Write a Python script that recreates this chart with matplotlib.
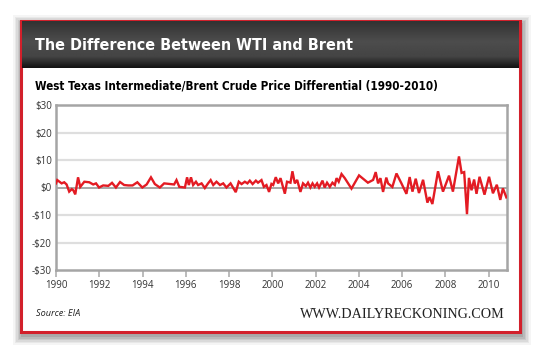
import numpy as np
import matplotlib
matplotlib.use("Agg")
import matplotlib.pyplot as plt
from matplotlib.patches import Rectangle
from matplotlib import font_manager as fm

# ---------------- data ----------------
years = [1990.00, 1990.06, 1990.26, 1990.38, 1990.49, 1990.61, 1990.73, 1990.80, 1990.89,
         1991.02, 1991.12, 1991.31, 1991.54, 1991.72, 1991.85, 1991.99,
         1992.18, 1992.42, 1992.59, 1992.77, 1992.96,
         1993.15, 1993.34, 1993.54, 1993.76, 1993.99,
         1994.19, 1994.39, 1994.57, 1994.80,
         1995.00, 1995.27, 1995.46, 1995.57, 1995.70, 1995.96,
         1996.06, 1996.14, 1996.24, 1996.34, 1996.47, 1996.57, 1996.73, 1996.88,
         1997.03, 1997.15, 1997.27, 1997.42, 1997.58, 1997.73, 1997.88,
         1998.07, 1998.31, 1998.45, 1998.58, 1998.73, 1998.85, 1998.96,
         1999.09, 1999.24, 1999.34, 1999.50, 1999.61, 1999.73, 1999.85, 1999.96,
         2000.04, 2000.16, 2000.27, 2000.38, 2000.58, 2000.68, 2000.84, 2000.93,
         2001.04, 2001.15, 2001.30, 2001.42, 2001.55, 2001.65, 2001.76, 2001.86, 2001.96,
         2002.07, 2002.16, 2002.32, 2002.42, 2002.53, 2002.66, 2002.78, 2002.89, 2002.97,
         2003.07, 2003.20, 2003.35, 2003.66,
         2004.01, 2004.42, 2004.66, 2004.78, 2004.89,
         2005.00, 2005.12, 2005.27, 2005.35, 2005.55, 2005.74, 2005.97,
         2006.20, 2006.35, 2006.48, 2006.63, 2006.78, 2006.97,
         2007.17, 2007.27, 2007.40, 2007.66, 2007.89,
         2008.17, 2008.35, 2008.63, 2008.75, 2008.87, 2009.00,
         2009.09, 2009.21, 2009.33, 2009.44, 2009.58, 2009.81,
         2010.02, 2010.20, 2010.38, 2010.54, 2010.66, 2010.82]
differential = [1.5, 2.7, 1.5, 1.9, 1.1, -1.5, -0.6, -1.0, -2.5,
                3.7, 0.2, 2.1, 1.9, 1.1, 1.5, 0.0,
                0.75, 0.6, 1.7, 0.0, 2.0,
                0.9, 0.75, 0.75, 1.9, 0.0,
                1.1, 3.7, 1.25, 0.0,
                1.5, 1.25, 1.1, 2.7, 0.25, 0.0,
                3.7, 0.9, 3.7, 0.9, 2.1, 0.9, 1.5, -0.2,
                1.5, 2.7, 0.9, 2.1, 0.9, 1.5, 0.0,
                1.5, -1.7, 2.1, 1.25, 2.1, 1.5, 2.5,
                1.25, 2.5, 1.75, 2.7, 0.25, 0.9, -1.6, 1.3,
                0.9, 3.75, 1.5, 3.4, -2.25, 2.1, 1.75, 5.9,
                1.5, 2.75, -1.6, 1.5, 0.5, 1.75, 0.0, 1.5, 0.25,
                1.5, 0.0, 2.5, 0.0, 1.75, 0.25, 1.75, 0.9, 3.4,
                2.1, 4.9, 3.4, -0.4,
                4.4, 1.75, 2.75, 5.6, 1.5,
                3.4, -1.6, 3.6, 1.5, 0.2, 5.1, 1.5,
                -2.3, 3.8, -1.5, 3.2, -2.0, 2.8,
                -5.5, -3.5, -6.0, 5.9, -1.5,
                4.3, -1.5, 11.3, 5.3, 5.6, -9.7,
                3.5, -1.0, 2.9, -2.3, 3.9, -2.6,
                3.9, -2.1, 1.0, -4.5, -0.3, -3.6]

y_ticks = [-30, -20, -10, 0, 10, 20, 30]
y_tick_labels = ["-$30", "-$20", "-$10", "$0", "$10", "$20", "$30"]
x_ticks = [1990, 1992, 1994, 1996, 1998, 2000, 2002, 2004, 2006, 2008, 2010]

header_title = "The Difference Between WTI and Brent"
chart_title = "West Texas Intermediate/Brent Crude Price Differential (1990-2010)"
source_text = "Source: EIA"
site_text = "WWW.DAILYRECKONING.COM"


def pick_condensed_bold():
    prefs = [("dejavu sans", "condensed"), ("roboto condensed", None),
             ("liberation sans narrow", None), ("open sans condensed", None)]
    for fam, stretch in prefs:
        for f in fm.fontManager.ttflist:
            if f.name.lower() == fam and f.style == "normal" and \
                    (f.weight in ("bold", 700) or "bold" in f.fname.lower()) and \
                    (stretch is None or f.stretch == stretch or "condensed" in f.fname.lower()):
                if fam == "dejavu sans" and "condensed" not in f.fname.lower():
                    continue
                return fm.FontProperties(fname=f.fname)
    return fm.FontProperties(family=["Roboto", "DejaVu Sans"], weight="bold")


cond_fp = pick_condensed_bold()

# ---------------- figure ----------------
W, H = 540, 351
fig = plt.figure(figsize=(W / 100, H / 100), dpi=100)
fig.patch.set_facecolor("white")

sans = ["Open Sans", "DejaVu Sans"]

bg = fig.add_axes([0, 0, 1, 1])
bg.set_xlim(0, W)
bg.set_ylim(H, 0)
bg.axis("off")

# drop shadow
for i, a in enumerate([0.04, 0.05, 0.06, 0.07, 0.08, 0.09]):
    g = 10 - i * 1.6
    bg.add_patch(Rectangle((20 - g + 3, 20 - g + 5), 500 + 2 * g - 2, 312 + 2 * g - 2,
                           facecolor="black", edgecolor="none", alpha=a, zorder=0))

# frame
bg.add_patch(Rectangle((20.5, 20.5), 499, 311, facecolor="white",
                       edgecolor="#d2202b", linewidth=2.2, zorder=1))

# header gradient
grad = np.concatenate([np.linspace(0.20, 0.30, 20), np.linspace(0.30, 0.27, 14),
                       np.linspace(0.27, 0.08, 12)])
img = np.tile(grad[:, None], (1, 10))
bg.imshow(img, cmap="gray", vmin=0, vmax=1, extent=(21.5, 518.5, 68, 21.5),
          aspect="auto", zorder=2, interpolation="bilinear")
bg.set_xlim(0, W)
bg.set_ylim(H, 0)

t_title = bg.text(35, 45, header_title, color="white", fontproperties=cond_fp.copy(),
                  va="center", ha="left", zorder=3)
t_sub = bg.text(35, 86, chart_title, color="black", fontproperties=cond_fp.copy(),
                va="center", ha="left", zorder=3)
bg.text(36, 314, source_text, color="#222222", fontsize=6.6, style="italic",
        family=sans, va="center", ha="left", zorder=3)
t_site = bg.text(505, 314, site_text, color="#222222",
                 family=["Liberation Serif", "DejaVu Serif"], va="center", ha="right", zorder=3)

# fit text widths to the reference
renderer = fig.canvas.get_renderer()
for t, start_size, target_w in [(t_title, 14, 318), (t_sub, 9.6, 402), (t_site, 9.2, 202)]:
    t.set_fontsize(start_size)
    w = t.get_window_extent(renderer).width
    t.set_fontsize(start_size * target_w / w)

# ---------------- plot axes ----------------
left, right, top, bottom = 56, 507, 105, 270
ax = fig.add_axes([left / W, 1 - bottom / H, (right - left) / W, (bottom - top) / H])
ax.set_facecolor("white")
ax.set_xlim(1990, 2010.85)
ax.set_ylim(-30, 30)

for y in [-20, -10, 10, 20]:
    ax.axhline(y, color="#dedede", linewidth=1.6, zorder=1)
ax.axhline(0, color="#a0a0a0", linewidth=1.3, zorder=1)

ax.plot(years, differential, color="#e31b23", linewidth=1.7, zorder=3,
        solid_joinstyle="miter")

for s in ax.spines.values():
    s.set_color("#a5a5a5")
    s.set_linewidth(1.8)

ax.set_yticks(y_ticks)
ax.set_yticklabels(y_tick_labels)
ax.set_xticks(x_ticks)
ax.set_xticklabels([str(t) for t in x_ticks])
ax.tick_params(axis="y", length=0, pad=3, labelsize=7, labelcolor="#333333")
ax.tick_params(axis="x", direction="out", length=5, width=1.4, color="#bbbbbb",
               pad=2, labelsize=7, labelcolor="#333333")
for lab in ax.get_xticklabels() + ax.get_yticklabels():
    lab.set_family(sans)

fig.savefig("out.png", dpi=100)
